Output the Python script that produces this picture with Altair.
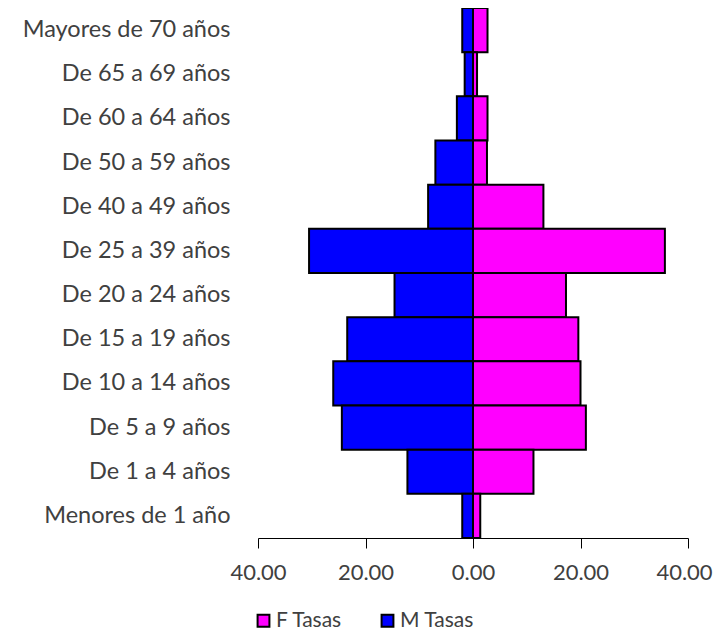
import altair as alt
import pandas as pd

grupos = ["Mayores de 70 años", "De 65 a 69 años", "De 60 a 64 años", "De 50 a 59 años",
          "De 40 a 49 años", "De 25 a 39 años", "De 20 a 24 años", "De 15 a 19 años",
          "De 10 a 14 años", "De 5 a 9 años", "De 1 a 4 años", "Menores de 1 año"]
f_tasas = [2.7, 0.75, 2.7, 2.6, 13.1, 35.7, 17.3, 19.6, 20.0, 21.0, 11.25, 1.35]
m_tasas = [2.0, 1.55, 3.0, 7.0, 8.35, 30.5, 14.6, 23.4, 26.0, 24.4, 12.2, 2.0]
series = ["F Tasas", "M Tasas"]
colores = ["#FF00FF", "#0000FF"]

rows = []
for g, f, m in zip(grupos, f_tasas, m_tasas):
    rows.append({"grupo": g, "serie": "F Tasas", "valor": f})
    rows.append({"grupo": g, "serie": "M Tasas", "valor": -m})
df = pd.DataFrame(rows)

font = "Lato"
txt = "#404040"

chart = alt.Chart(df).mark_bar(stroke="black", strokeWidth=2).encode(
    x=alt.X("valor:Q", scale=alt.Scale(domain=[-40, 40], nice=False),
            axis=alt.Axis(values=[-40, -20, 0, 20, 40], title=None, grid=False,
                          labelExpr="format(abs(datum.value), '.2f')",
                          domainColor="#000000", tickColor="#000000", tickSize=10,
                          labelPadding=14, labelFont=font, labelFontSize=22,
                          labelOffset={"condition": {"test": "datum.value == 40", "value": -4},
                                       "value": 0},
                          labelColor=txt, labelFlush=False)),
    y=alt.Y("grupo:N", sort=grupos,
            scale=alt.Scale(paddingInner=0, paddingOuter=0),
            axis=alt.Axis(title=None, domain=False, ticks=False, labelPadding=28,
                          labelLimit=400, labelFont=font, labelFontSize=23.5,
                          labelColor=txt)),
    color=alt.Color("serie:N", scale=alt.Scale(domain=series, range=colores),
                    legend=alt.Legend(title=None, orient="none", direction="horizontal",
                                      legendX=-5, legendY=602, symbolType="square",
                                      symbolSize=140, symbolStrokeColor="black",
                                      symbolStrokeWidth=2, labelFont=font,
                                      labelFontSize=21, labelColor=txt,
                                      columnPadding=34, labelOffset=2)),
).properties(
    width=430, height=530,
    autosize=alt.AutoSizeParams(type="none"),
    padding={"left": 250, "top": 0, "right": 25, "bottom": 92},
).configure_view(stroke=None)

chart.save("out.html", embed_options={"renderer": "svg", "actions": False})
